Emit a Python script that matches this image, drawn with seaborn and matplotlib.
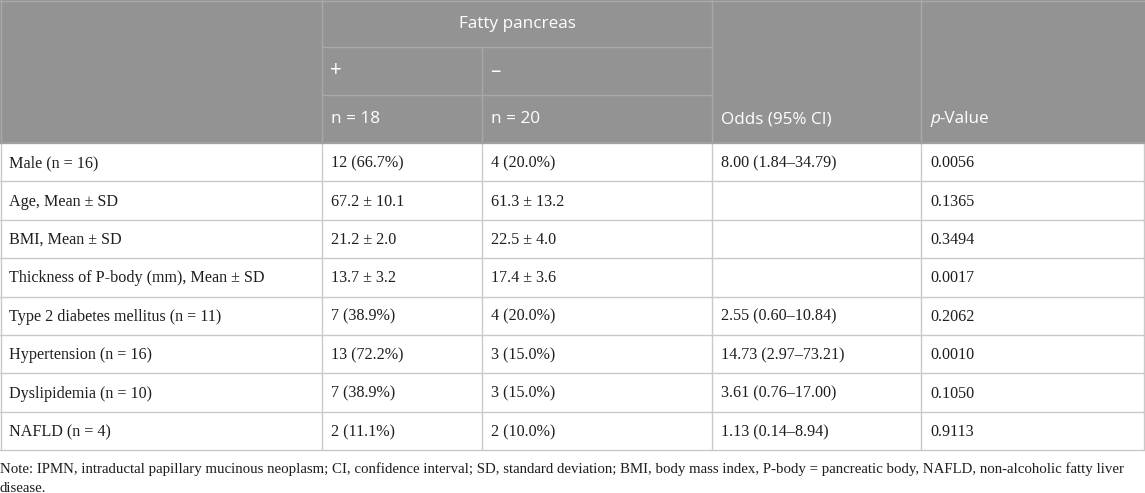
import numpy as np
import pandas as pd
import seaborn as sns
import matplotlib
matplotlib.use("Agg")
import matplotlib.pyplot as plt
from matplotlib.patches import Rectangle

# tablo verileri
group_title = "Fatty pancreas"
sub_heads = ["+", "–"]
n_heads = ["n = 18", "n = 20"]
odds_head = "Odds (95% CI)"
p_head = "-Value"

row_labels = ["Male (n = 16)", "Age, Mean ± SD", "BMI, Mean ± SD",
              "Thickness of P-body (mm), Mean ± SD", "Type 2 diabetes mellitus (n = 11)",
              "Hypertension (n = 16)", "Dyslipidemia (n = 10)", "NAFLD (n = 4)"]
fatty_pos = ["12 (66.7%)", "67.2 ± 10.1", "21.2 ± 2.0", "13.7 ± 3.2",
             "7 (38.9%)", "13 (72.2%)", "7 (38.9%)", "2 (11.1%)"]
fatty_neg = ["4 (20.0%)", "61.3 ± 13.2", "22.5 ± 4.0", "17.4 ± 3.6",
             "4 (20.0%)", "3 (15.0%)", "3 (15.0%)", "2 (10.0%)"]
odds = ["8.00 (1.84–34.79)", "", "", "", "2.55 (0.60–10.84)",
        "14.73 (2.97–73.21)", "3.61 (0.76–17.00)", "1.13 (0.14–8.94)"]
pvals = ["0.0056", "0.1365", "0.3494", "0.0017", "0.2062", "0.0010", "0.1050", "0.9113"]

note_lines = ["Note: IPMN, intraductal papillary mucinous neoplasm; CI, confidence interval; SD, standard deviation; "
              "BMI, body mass index, P-body = pancreatic body, NAFLD, non-alcoholic fatty liver",
              "disease."]

df = pd.DataFrame({"label": row_labels, "pos": fatty_pos, "neg": fatty_neg,
                   "odds": odds, "p": pvals})

sns.set_theme(style="white")
plt.rcParams["font.family"] = ["DejaVu Sans"]

W, H = 1145, 493
fig = plt.figure(figsize=(W / 100, H / 100), dpi=100)
ax = fig.add_axes([0, 0, 1, 1])
ax.set_xlim(0, W)
ax.set_ylim(H, 0)
ax.axis("off")

col_x = [0, 322, 482, 712, 921, 1144]
hdr_y = [0, 47, 95, 143]
row_h = 38.4
body_top = hdr_y[-1]
body_bot = body_top + row_h * len(df)
pad = 9

head_bg = "#939393"
head_line = "#a9a9a9"
body_line = "#c9c9c9"
txt = "#1e1e1e"
sans = "Open Sans"
serif = "Liberation Serif"
hfs = 12.3
bfs = 11.6

# başlık arka planı
ax.add_patch(Rectangle((0, 0), W, body_top, color=head_bg, lw=0, zorder=0))

# başlık çizgileri
ax.plot([col_x[1], col_x[3]], [hdr_y[1]] * 2, color=head_line, lw=1)
ax.plot([col_x[1], col_x[3]], [hdr_y[2]] * 2, color=head_line, lw=1)
ax.plot([col_x[2]] * 2, [hdr_y[1], body_top], color=head_line, lw=1)
for x in [col_x[1], col_x[3], col_x[4]]:
    ax.plot([x, x], [0, body_top], color=head_line, lw=1)
ax.plot([0, W], [0.5, 0.5], color=head_line, lw=1)
ax.plot([0.5, 0.5], [0, body_top], color=head_line, lw=1)

# başlık metinleri
ax.text((col_x[1] + col_x[3]) / 2, (hdr_y[0] + hdr_y[1]) / 2, group_title,
        ha="center", va="center", color="white", fontsize=hfs, family=sans)
for i in range(2):
    ax.text(col_x[1 + i] + pad - 1, (hdr_y[1] + hdr_y[2]) / 2, sub_heads[i],
            ha="left", va="center", color="white", fontsize=hfs + 2.5, family=sans)
    ax.text(col_x[1 + i] + pad, (hdr_y[2] + hdr_y[3]) / 2, n_heads[i],
            ha="left", va="center", color="white", fontsize=hfs, family=sans)
ymid = (hdr_y[2] + hdr_y[3]) / 2
ax.text(col_x[3] + pad, ymid, odds_head, ha="left", va="center",
        color="white", fontsize=hfs, family=sans)
pt = ax.text(col_x[4] + pad, ymid, "p", ha="left", va="center", color="white",
             fontsize=hfs, family=sans, style="italic")
fig.canvas.draw()
inv = ax.transData.inverted()
bb = pt.get_window_extent().transformed(inv)
ax.text(bb.x1, ymid, p_head, ha="left", va="center", color="white",
        fontsize=hfs, family=sans)

# gövde çizgileri
for i in range(len(df) + 1):
    y = body_top + i * row_h
    ax.plot([0, W], [y, y], color=body_line, lw=1)
for x in col_x:
    ax.plot([x + (0.5 if x == 0 else 0)] * 2, [body_top, body_bot], color=body_line, lw=1)
ax.plot([0, W], [body_top, body_top], color="#a0a0a0", lw=1.5)

# gövde metinleri
cols = ["label", "pos", "neg", "odds", "p"]
for i, row in df.iterrows():
    y = body_top + (i + 0.5) * row_h + 1
    for j, c in enumerate(cols):
        ax.text(col_x[j] + pad, y, row[c], ha="left", va="center", color=txt,
                fontsize=bfs, family=serif)

# not: ilk satır yaklaşık 1127 px genişliğe sığdırılır
t0 = ax.text(0, body_bot + 19, note_lines[0], ha="left", va="center", color=txt,
             fontsize=bfs, family=serif)
fig.canvas.draw()
wpx = t0.get_window_extent().width
nfs = bfs * 1127 / wpx
t0.set_fontsize(nfs)
ax.text(0, body_bot + 38, note_lines[1], ha="left", va="center", color=txt,
        fontsize=nfs, family=serif)

fig.savefig("out.png", dpi=100)
